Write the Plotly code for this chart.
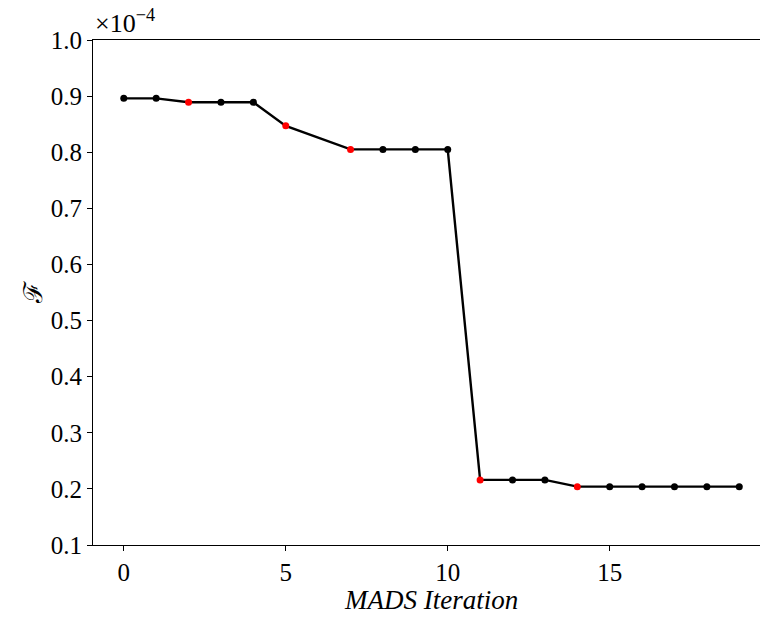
import plotly.graph_objects as go

iterations = [0, 1, 2, 3, 4, 5, 7, 8, 9, 10, 11, 12, 13, 14, 15, 16, 17, 18, 19]
objective = [0.896, 0.896, 0.889, 0.889, 0.889, 0.847, 0.805, 0.805, 0.805, 0.805,
             0.216, 0.216, 0.216, 0.204, 0.204, 0.204, 0.204, 0.204, 0.204]
improved_iters = [2, 5, 7, 11, 14]

colors = ["red" if it in improved_iters else "black" for it in iterations]

FONT = "Liberation Serif"

fig = go.Figure()
fig.add_trace(go.Scatter(
    x=iterations, y=objective, mode="lines+markers",
    line=dict(color="black", width=2.4),
    marker=dict(color=colors, size=7, line=dict(width=0)),
    showlegend=False,
))

fig.update_layout(
    width=760, height=618,
    margin=dict(l=93, r=0, t=40, b=73),
    paper_bgcolor="white", plot_bgcolor="white",
    font=dict(family=FONT, size=25, color="black"),
    xaxis=dict(
        range=[-0.95, 19.64], tickvals=[0, 5, 10, 15],
        showline=True, linecolor="black", linewidth=1.2, mirror=True,
        ticks="outside", ticklen=5, tickwidth=1.2, tickcolor="black",
        showgrid=False, zeroline=False, ticklabelstandoff=0,
    ),
    yaxis=dict(
        range=[0.1, 1.0], tickvals=[0.1, 0.2, 0.3, 0.4, 0.5, 0.6, 0.7, 0.8, 0.9, 1.0],
        tickformat=".1f",
        showline=True, linecolor="black", linewidth=1.2, mirror=False,
        ticks="outside", ticklen=5, tickwidth=1.2, tickcolor="black",
        showgrid=False, zeroline=False,
    ),
    annotations=[
        dict(text="×10<sup>−4</sup>", xref="paper", yref="paper", x=0.0, y=1.0,
             xanchor="left", yanchor="bottom", showarrow=False,
             font=dict(family=FONT, size=26)),
        dict(text="<i>MADS Iteration</i>", xref="paper", yref="paper", x=0.507, y=-0.075,
             xanchor="center", yanchor="top", showarrow=False,
             font=dict(family=FONT, size=27)),
        dict(text="ℱ", xref="paper", yref="paper", x=-0.09, y=0.5,
             xanchor="center", yanchor="middle", showarrow=False, textangle=-90,
             font=dict(family="DejaVu Serif", size=26)),
    ],
)

fig.write_html("out.html")
